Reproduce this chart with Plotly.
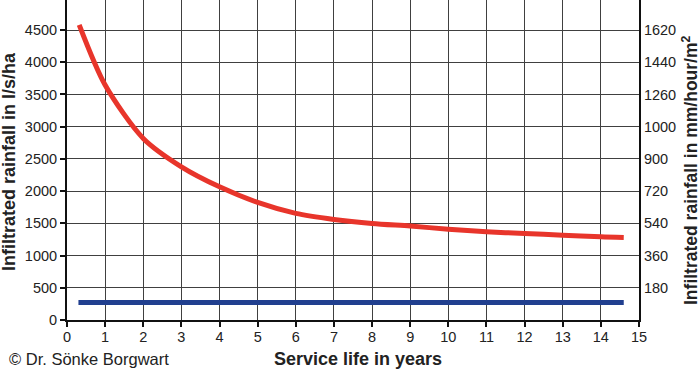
import plotly.graph_objects as go

# Data
years = [0.32, 1, 2, 3, 4, 5, 6, 7, 8, 9, 10, 11, 12, 13, 14, 14.6]
rain_lsha = [4580, 3646, 2818, 2378, 2067, 1824, 1654, 1561, 1498, 1457, 1410, 1370, 1343, 1317, 1291, 1281]
base_years = [0.3, 14.6]
base_lsha = [272, 272]

x_ticks = list(range(0, 16))
y_ticks = [0, 500, 1000, 1500, 2000, 2500, 3000, 3500, 4000, 4500]
right_tickvals = [500, 1000, 1500, 2000, 2500, 3000, 3500, 4000, 4500]
right_ticktext = ["180", "360", "540", "720", "900", "1000", "1260", "1440", "1620"]

FONT = "Liberation Sans, Arial, Helvetica, sans-serif"
GRID = "#404040"
TXT = "#222222"

W, H = 700, 372
L, R, T, B = 67, 61, 0, 52
PW, PH = W - L - R, H - T - B


def px_x(px):
    return (px - L) / PW


def px_y(py):
    return (H - B - py) / PH


fig = go.Figure()
fig.add_trace(go.Scatter(x=years, y=rain_lsha, mode="lines",
                         line=dict(color="#e8352b", width=5, shape="spline", smoothing=0.8),
                         showlegend=False, hoverinfo="skip"))
fig.add_trace(go.Scatter(x=base_years, y=base_lsha, mode="lines",
                         line=dict(color="#213f8f", width=5),
                         showlegend=False, hoverinfo="skip"))
fig.add_trace(go.Scatter(x=[0], y=[0], yaxis="y2", mode="markers", opacity=0,
                         showlegend=False, hoverinfo="skip"))

YMAX = 4966

fig.update_layout(
    width=W, height=H,
    margin=dict(l=L, r=R, t=T, b=B, autoexpand=False),
    paper_bgcolor="white", plot_bgcolor="white",
    font=dict(family=FONT, size=14.5, color=TXT),
    showlegend=False,
    xaxis=dict(range=[0, 15], tickvals=x_ticks, showgrid=True, gridcolor=GRID, gridwidth=1,
               showline=True, linecolor="#111111", linewidth=2, ticks="outside",
               ticklen=5, tickcolor="#111111", tickwidth=1.5, zeroline=False, automargin=False,
               ticklabelstandoff=-2),
    yaxis=dict(range=[0, YMAX], tickvals=y_ticks, showgrid=True, gridcolor=GRID, gridwidth=1,
               showline=True, linecolor="#111111", linewidth=2, ticks="outside",
               ticklen=5, tickcolor="#111111", tickwidth=1.5, zeroline=False, automargin=False),
    yaxis2=dict(range=[0, YMAX], overlaying="y", side="right", tickvals=right_tickvals,
                ticktext=right_ticktext, showgrid=False, zeroline=False,
                showline=True, linecolor="#111111", linewidth=2, ticks="", automargin=False),
    annotations=[
        dict(text="© Dr. Sönke Borgwart", xref="paper", yref="paper",
             x=px_x(7), y=px_y(359), xanchor="left", yanchor="middle",
             showarrow=False, font=dict(size=16.5, color=TXT)),
        dict(text="<b>Service life in years</b>", xref="paper", yref="paper",
             x=px_x(358), y=px_y(359), xanchor="center", yanchor="middle",
             showarrow=False, font=dict(size=18, color=TXT)),
        dict(text="<b>Infiltrated rainfall in l/s/ha</b>", xref="paper", yref="paper",
             x=px_x(9), y=px_y(162), xanchor="center", yanchor="middle", textangle=-90,
             showarrow=False, font=dict(size=18, color=TXT)),
        dict(text="<b>Infiltrated rainfall in mm/hour/m<sup>2</sup></b>", xref="paper", yref="paper",
             x=px_x(690), y=px_y(170), xanchor="center", yanchor="middle", textangle=-90,
             showarrow=False, font=dict(size=17.5, color=TXT)),
    ],
)

fig.write_html("out.html", config={"displayModeBar": False},
               post_script="document.body.style.margin='0';document.body.style.overflow='hidden';")
